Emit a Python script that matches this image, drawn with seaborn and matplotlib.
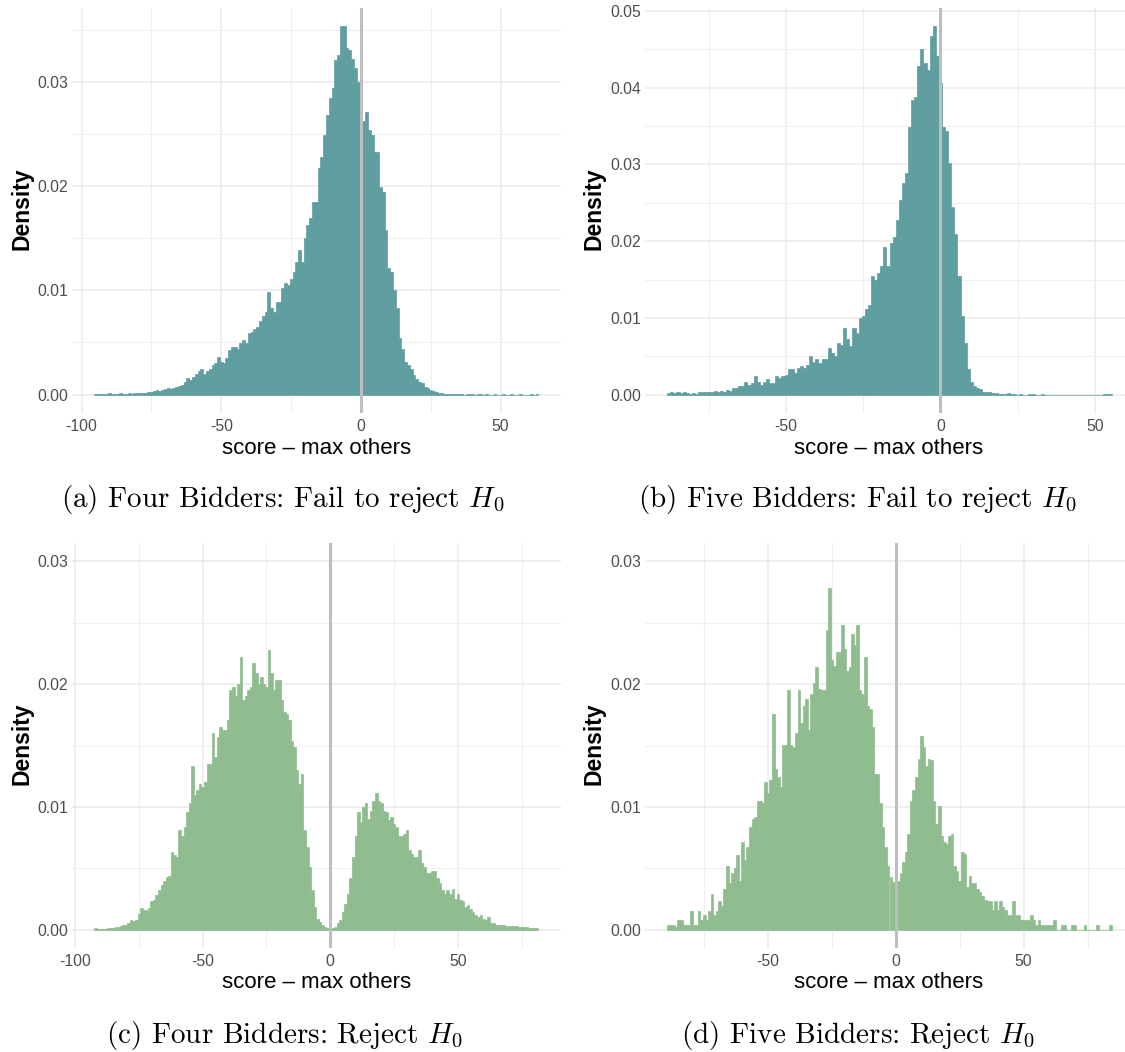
import numpy as np
import pandas as pd
import matplotlib
matplotlib.use("Agg")
import matplotlib.pyplot as plt
from matplotlib.ticker import MultipleLocator, FuncFormatter, FormatStrFormatter
import seaborn as sns

# Histogram densities (in units of 1e-4) on unit-width bins, one list per panel.
# Each list starts at the bin centred on the given *_start value.
four_fail_start = -95
four_fail = [
    1, 0.5, 0.5, 1, 0.5, 2, 0.5, 1, 1, 1.5,
    1, 1, 1.5, 1, 1.5, 1.5, 2, 2, 2, 2.5,
    2.6, 3, 4, 3.5, 4, 5, 6, 5, 6, 7,
    8, 9, 12, 16, 14, 17, 20, 23, 25, 20,
    23, 25, 28, 30, 36, 31, 30, 35, 43, 46,
    46, 44, 49, 52, 49, 59, 60, 63, 65, 71,
    75, 79, 98, 83, 79, 89, 89, 102, 107, 105,
    111, 118, 127, 139, 127, 150, 163, 169, 185, 185,
    217, 228, 249, 268, 284, 294, 321, 326, 353, 353,
    332, 330, 322, 313, 300, 281, 262, 271, 254, 249,
    233, 233, 199, 194, 158, 121, 118, 100, 83, 54,
    44, 31, 28, 25, 19, 15, 12, 11, 7, 6,
    4, 3, 2.5, 1.5, 1.5, 1, 1, 1, 0.5, 1,
    0.5, 0.5, 0, 0.5, 0.3, 0.5, 0, 0.3, 0.3, 0,
    0.3, 0, 0, 0.3, 0, 0, 0.3, 0, 0, 0.5,
    0, 0, 0.3, 0, 0, 0, 0.3, 0, 0.5,
]

five_fail_start = -88
five_fail = [
    2, 3, 2, 3, 2, 3, 2, 1, 2, 1,
    3, 4, 4, 4, 3, 5, 4, 5, 4, 6,
    5, 9, 9, 11, 11, 17, 13, 15, 24, 17,
    13, 17, 20, 15, 15, 24, 22, 24, 26, 33,
    33, 28, 35, 37, 35, 39, 50, 43, 46, 41,
    46, 46, 61, 54, 50, 67, 65, 87, 72, 63,
    87, 80, 100, 102, 111, 117, 154, 150, 158, 167,
    193, 167, 197, 206, 228, 254, 276, 289, 349, 384,
    388, 428, 451, 432, 423, 467, 480, 441, 406, 349,
    343, 302, 245, 210, 154, 102, 67, 33, 17, 11,
    9, 7, 4, 4, 3, 2, 2, 1, 1, 0.5,
    1.5, 0.3, 0.3, 0, 0.3, 0, 0, 0.3, 1, 0,
    0, 0.3, 0, 0, 0, 0, 0, 0, 0, 0,
    0, 0, 0, 0, 0, 0, 0, 0, 0, 0,
    0, 0.3, 1, 0.5,
]

four_reject_start = -92
four_reject = [
    1, 0.5, 0.5, 0.5, 0.5, 1, 1.5, 1.5, 2, 2.5,
    3, 4, 4, 5, 8, 7, 8, 13, 18, 16,
    16, 18, 23, 24, 28, 32, 36, 40, 43, 44,
    63, 61, 59, 81, 76, 84, 96, 103, 133, 110,
    114, 119, 116, 120, 135, 135, 160, 141, 157, 165,
    163, 163, 171, 195, 198, 190, 200, 222, 187, 190,
    195, 198, 217, 209, 200, 206, 200, 198, 228, 209,
    195, 203, 203, 187, 177, 176, 171, 154, 149, 130,
    119, 127, 81, 67, 51, 32, 18, 9, 6, 3.5,
    2, 1, 0.5, 1.5, 2, 5, 8, 14, 21, 29,
    42, 59, 76, 96, 88, 100, 103, 90, 97, 105,
    111, 105, 103, 97, 96, 89, 92, 86, 84, 76,
    76, 78, 81, 65, 62, 59, 59, 65, 54, 51,
    46, 46, 48, 48, 42, 38, 32, 29, 32, 29,
    33, 25, 29, 24, 23, 18, 20, 17, 14, 12,
    10, 12, 9, 8, 10, 5, 5, 4, 4, 3.5,
    3.5, 3, 3, 3, 3, 3, 2.5, 2, 2, 2,
    1.5, 1.5, 1.5, 1.5,
]

five_reject_start = -89
five_reject = [
    4, 4, 4, 2, 8, 8, 4, 4, 4, 15,
    4, 4, 15, 8, 12, 8, 15, 29, 12, 15,
    23, 19, 33, 52, 38, 46, 50, 61, 40, 71,
    57, 67, 84, 90, 92, 105, 105, 103, 120, 111,
    122, 176, 131, 124, 116, 150, 150, 195, 150, 149,
    160, 195, 168, 182, 188, 163, 192, 201, 214, 196,
    195, 195, 244, 278, 220, 215, 226, 226, 248, 229,
    211, 214, 241, 232, 248, 195, 192, 222, 182, 180,
    165, 127, 127, 103, 84, 67, 52, 43, 39, 48,
    40, 46, 55, 63, 78, 105, 114, 124, 139, 158,
    149, 133, 139, 138, 105, 86, 101, 76, 71, 70,
    76, 78, 52, 48, 40, 63, 62, 35, 44, 38,
    38, 33, 31, 27, 24, 23, 23, 16, 23, 16,
    23, 18, 16, 12, 12, 23, 12, 12, 8, 8,
    8, 8, 12, 8, 4, 8, 4, 4, 4, 4,
    4, 8, 0, 0, 4, 4, 0, 0, 4, 4,
    0, 0, 0, 4, 0, 0, 0, 0, 4, 0,
    0, 0, 0, 4,
]

captions = [
    r"(a) Four Bidders: Fail to reject $H_0$",
    r"(b) Five Bidders: Fail to reject $H_0$",
    r"(c) Four Bidders: Reject $H_0$",
    r"(d) Five Bidders: Reject $H_0$",
]
x_title = "score \u2013 max others"
y_title = "Density"

TEAL = "#5F9EA0"   # cadetblue
GREEN = "#8FBC8F"  # darkseagreen
ZERO_LINE = "#BEBEBE"

sns.set_style("white")
plt.rcParams["font.family"] = ["Liberation Sans", "DejaVu Sans"]
plt.rcParams["mathtext.fontset"] = "cm"

W, H = 1125, 1052
fig = plt.figure(figsize=(W / 100, H / 100), dpi=100)


def px_axes(left, top, right, bottom):
    return fig.add_axes([left / W, 1 - bottom / H, (right - left) / W, (bottom - top) / H])


def panel(ax, start, dens_e4, color, fixed_top=None, ymajor=0.01):
    dens = np.asarray(dens_e4, dtype=float) / 1e4
    centers = start + np.arange(len(dens))
    edges = np.append(centers - 0.5, centers[-1] + 0.5)
    df = pd.DataFrame({"diff": centers, "density": dens})
    sns.histplot(data=df, x="diff", weights="density", bins=edges.tolist(), stat="count",
                 color=color, alpha=1, edgecolor=color, linewidth=0.5, ax=ax)
    ax.axvline(0, color=ZERO_LINE, lw=2.2, zorder=3)

    pad = 0.05 * (edges[-1] - edges[0])
    ax.set_xlim(edges[0] - pad, edges[-1] + pad)
    top = dens.max() if fixed_top is None else fixed_top
    ax.set_ylim(-0.05 * top, 1.05 * top)

    ax.xaxis.set_major_locator(MultipleLocator(50))
    ax.xaxis.set_minor_locator(MultipleLocator(25))
    ax.yaxis.set_major_locator(MultipleLocator(ymajor))
    ax.yaxis.set_minor_locator(MultipleLocator(ymajor / 2))
    ax.xaxis.set_major_formatter(FuncFormatter(lambda v, p: f"{v:.0f}"))
    ax.yaxis.set_major_formatter(FormatStrFormatter("%.2f"))

    ax.set_axisbelow(True)
    ax.grid(which="major", color="#EBEBEB", lw=1.1)
    ax.grid(which="minor", color="#EFEFEF", lw=0.8)
    for s in ax.spines.values():
        s.set_visible(False)
    ax.tick_params(which="both", length=0, labelsize=11.3, labelcolor="#4D4D4D")
    ax.tick_params(axis="x", pad=4.5)
    ax.tick_params(axis="y", pad=2.7)
    ax.set_xlabel("")
    ax.set_ylabel("")


axA = px_axes(72, 8, 560.5, 413)
axB = px_axes(645, 8, 1134, 413)
axC = px_axes(72, 543, 560.5, 948)
axD = px_axes(645, 543, 1134, 948)

panel(axA, four_fail_start, four_fail, TEAL)
panel(axB, five_fail_start, five_fail, TEAL)
panel(axC, four_reject_start, four_reject, GREEN, fixed_top=0.03)
panel(axD, five_reject_start, five_reject, GREEN, fixed_top=0.03)


def ftext(x, y, s, **kw):
    fig.text(x / W, 1 - y / H, s, ha="center", va="center", **kw)


for (xc, yc) in [(317, 448), (889, 448), (317, 983), (889, 983)]:
    ftext(xc, yc, x_title, fontsize=16, color="black")
for (xc, yc) in [(22, 209), (594, 209), (22, 744), (594, 744)]:
    ftext(xc, yc, y_title, fontsize=16.5, fontweight="bold", rotation=90, color="black")
for (xc, yc), cap in zip([(283, 500), (858, 500), (284, 1035), (858, 1035)], captions):
    ftext(xc, yc, cap, fontsize=21, fontfamily="cmr10", color="black")

fig.savefig("out.png", dpi=100, facecolor="white")
